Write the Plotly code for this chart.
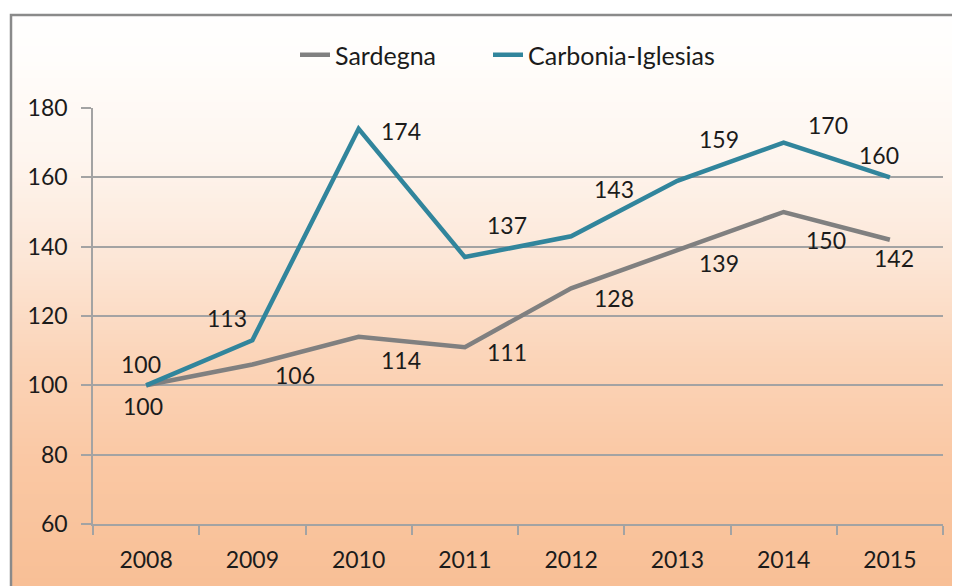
import plotly.graph_objects as go

years = ["2008", "2009", "2010", "2011", "2012", "2013", "2014", "2015"]
sardegna = [100, 106, 114, 111, 128, 139, 150, 142]
carbonia = [100, 113, 174, 137, 143, 159, 170, 160]

# label offsets (pixels) - styling only
sard_off = [(-3, -21), (43, -10), (42, -23), (42, -5), (43, -10), (42, -13), (42, -28), (4, -18)]
carb_off = [(-5, 21), (-25, 22), (42, -2), (42, 32), (43, 47), (42, 42), (44, 18), (-11, 22)]

W, H = 960, 586
OFF = 8  # page body margin
# plot area in window pixels: x 93..943, y 108..524
ML = 93 - OFF
MT = 108 - OFF
MR = W - (943 - OFF)
MB = H - (524 - OFF)
pw, ph = W - ML - MR, H - MT - MB

def px2paper_x(x):  # window px -> paper
    return (x - OFF - ML) / pw

def px2paper_y(y):
    return (H - MB - (y - OFF)) / ph

FONT = "Lato"
TXT = "#1b1b1b"
GRID = "#a3a3a3"

fig = go.Figure()
fig.add_trace(go.Scatter(x=years, y=sardegna, mode="lines", name="Sardegna",
                         line=dict(color="#808080", width=4.5), legend="legend"))
fig.add_trace(go.Scatter(x=years, y=carbonia, mode="lines", name="Carbonia-Iglesias",
                         line=dict(color="#31859c", width=4.5), legend="legend2"))

annotations = []
for series, offs in ((sardegna, sard_off), (carbonia, carb_off)):
    for i, (v, (dx, dy)) in enumerate(zip(series, offs)):
        annotations.append(dict(x=i, y=v, xref="x", yref="y", text=str(v), showarrow=False,
                                xshift=dx, yshift=dy,
                                font=dict(family=FONT, size=23, color=TXT)))

# gradient background strips
stops = [(0, (255, 255, 255)), (60, (255, 253, 251)), (160, (254, 245, 238)),
         (260, (252, 230, 214)), (360, (251, 212, 184)), (460, (250, 200, 164)),
         (600, (248, 190, 148))]

def col_at(y):
    for (y0, c0), (y1, c1) in zip(stops[:-1], stops[1:]):
        if y0 <= y <= y1:
            t = (y - y0) / (y1 - y0)
            return "rgb(%d,%d,%d)" % tuple(round(a + (b - a) * t) for a, b in zip(c0, c1))
    return "rgb(%d,%d,%d)" % stops[-1][1]

shapes = []
step = 4
for y in range(14, H + 10, step):
    shapes.append(dict(type="rect", xref="paper", yref="paper", layer="below",
                       x0=px2paper_x(10), x1=px2paper_x(W + 20),
                       y0=px2paper_y(y + step + 1), y1=px2paper_y(y),
                       line=dict(width=0), fillcolor=col_at(y + step / 2)))
# border
shapes.append(dict(type="rect", xref="paper", yref="paper", layer="below",
                   x0=px2paper_x(11), x1=px2paper_x(W + 30),
                   y0=px2paper_y(H + 30), y1=px2paper_y(15),
                   line=dict(color="#8a8a8a", width=2.5), fillcolor="rgba(0,0,0,0)"))

legend_common = dict(orientation="h", xanchor="left", yanchor="middle",
                     y=px2paper_y(55), bgcolor="rgba(0,0,0,0)",
                     font=dict(family=FONT, size=25, color=TXT))

fig.update_layout(
    width=W, height=H,
    margin=dict(l=ML, r=MR, t=MT, b=MB, autoexpand=False),
    paper_bgcolor="white",
    plot_bgcolor="rgba(0,0,0,0)",
    font=dict(family=FONT, size=23, color=TXT),
    showlegend=True,
    legend=dict(x=px2paper_x(295), **legend_common),
    legend2=dict(x=px2paper_x(488), **legend_common),
    annotations=annotations,
    shapes=shapes,
)
fig.update_xaxes(type="category", range=[-0.5, 7.5], autorange=False,
                 showgrid=False, showline=True, linecolor=GRID, linewidth=1.5,
                 ticks="outside", tickson="boundaries", ticklen=9, tickcolor=GRID, tickwidth=1.5,
                 tickfont=dict(family=FONT, size=23, color=TXT), zeroline=False,
                 tickangle=0, automargin=False, ticklabelstandoff=15)
fig.update_yaxes(range=[60, 180], autorange=False, dtick=20, tick0=60, showgrid=True,
                 gridcolor=GRID, gridwidth=1.5,
                 showline=True, linecolor=GRID, linewidth=1.5, zeroline=False,
                 ticks="outside", ticklen=10, tickcolor=GRID, tickwidth=1.5, automargin=False,
                 tickfont=dict(family=FONT, size=23, color=TXT), ticklabelstandoff=9)

fig.write_html("out.html")
